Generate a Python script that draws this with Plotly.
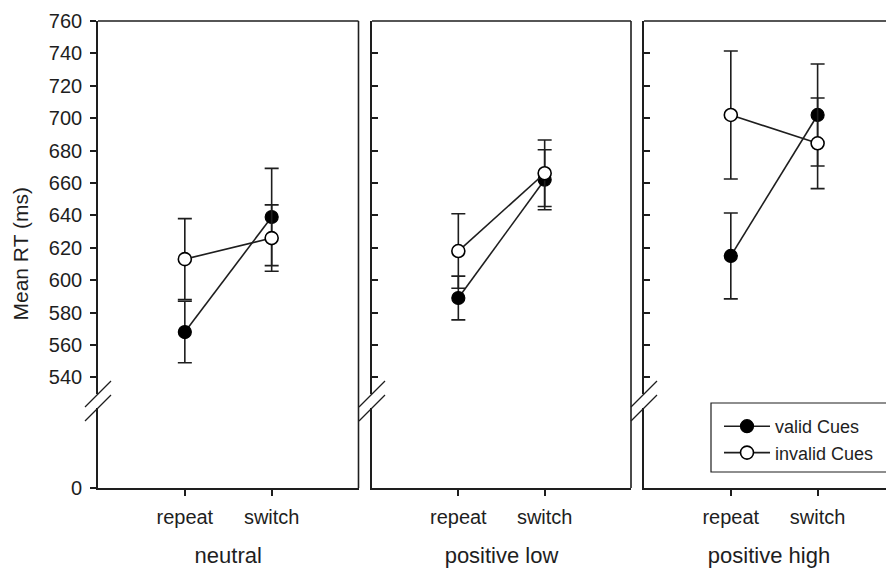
import plotly.graph_objects as go

# ---------------- data ----------------
categories = ["repeat", "switch"]
conditions = ["neutral", "positive low", "positive high"]

valid_means = [[568, 639], [589, 662], [615, 702]]
valid_err = [[19, 30], [13.5, 18.5], [26.5, 31.5]]
invalid_means = [[613, 626], [618, 666], [702, 684.5]]
invalid_err = [[25, 20.5], [23, 20.5], [39.5, 28]]

upper_ticks = list(range(540, 761, 20))
lower_ticks = [0]
series_names = ["valid Cues", "invalid Cues"]

# ---------------- layout geometry (screen pixels) ----------------
W, H = 894, 568
OFF = 8                      # default body margin of the html page
L, R, T, B = 98, 0, 21, 80
PW, PH = W - L - R, H - T - B


def px_x(p):
    return (p - L) / PW


def px_y(p):
    return (H - B - p) / PH


panel_px = [(98, 358.5), (372, 631), (644, 894)]
x_ranges = [[-1, 2], [-1, 2], [-1, 1.88]]
domains = [[px_x(a), min(1, px_x(b))] for a, b in panel_px]

BREAK_TOP, BREAK_BOT = 394, 408
upper_dom = [px_y(BREAK_TOP), 1]
lower_dom = [0, px_y(BREAK_BOT)]
upper_range = [760 - (BREAK_TOP - 21) * 20 / 32.4, 760]

FONT = "Liberation Sans, Arial, Helvetica, sans-serif"
INK = "#1e1e1e"
LW = 1.6

fig = go.Figure()

for i in range(3):
    xa = "x" if i == 0 else f"x{i+1}"
    ya = "y" if i == 0 else f"y{i+1}"
    fig.add_trace(go.Scatter(
        x=categories, y=valid_means[i], xaxis=xa, yaxis=ya,
        mode="lines+markers", name=series_names[0],
        showlegend=(i == 0),
        line=dict(color=INK, width=LW),
        marker=dict(symbol="circle", size=13, color="black",
                    line=dict(color="black", width=1.2)),
        error_y=dict(type="data", array=valid_err[i], color=INK,
                     thickness=LW, width=7),
    ))
    fig.add_trace(go.Scatter(
        x=categories, y=invalid_means[i], xaxis=xa, yaxis=ya,
        mode="lines+markers", name=series_names[1],
        showlegend=(i == 0),
        line=dict(color=INK, width=LW),
        marker=dict(symbol="circle", size=13, color="white",
                    line=dict(color="black", width=1.6)),
        error_y=dict(type="data", array=invalid_err[i], color=INK,
                     thickness=LW, width=7),
    ))
    # empty trace so the lower (broken) y-axis segment is created
    fig.add_trace(go.Scatter(
        x=[], y=[], xaxis=xa, yaxis=f"y{i+4}", showlegend=False,
        hoverinfo="skip", mode="markers",
    ))

layout = dict(
    width=W - OFF, height=H - OFF,
    margin=dict(l=L - OFF, r=R, t=T - OFF, b=B, pad=0),
    paper_bgcolor="white", plot_bgcolor="white",
    font=dict(family=FONT, size=20, color=INK),
    showlegend=True,
    legend=dict(
        x=px_x(719), y=px_y(408), xanchor="left", yanchor="top",
        borderwidth=0, bgcolor="rgba(0,0,0,0)",
        font=dict(size=18, family=FONT, color=INK),
        tracegroupgap=0, itemwidth=46,
    ),
)

shapes = []
for i in range(3):
    n = "" if i == 0 else str(i + 1)
    first = i == 0
    layout[f"xaxis{n}"] = dict(
        domain=domains[i], range=x_ranges[i], type="category",
        anchor=f"y{i+4}", showgrid=False, zeroline=False,
        showline=True, linecolor=INK, linewidth=LW,
        ticks="outside", ticklen=6, tickwidth=LW, tickcolor=INK,
        tickfont=dict(size=20), ticklabelstandoff=4,
        title=dict(text=conditions[i], font=dict(size=22), standoff=21),
        fixedrange=True,
    )
    layout[f"yaxis{n}"] = dict(
        domain=upper_dom, range=upper_range, anchor=f"x{n}",
        tickvals=upper_ticks, showticklabels=first,
        showgrid=False, zeroline=False,
        showline=True, linecolor=INK, linewidth=LW,
        ticks="outside" if first else "inside", ticklen=6, tickwidth=LW,
        tickcolor=INK, tickfont=dict(size=20), ticklabelstandoff=4,
        fixedrange=True,
    )
    layout[f"yaxis{i+4}"] = dict(
        domain=lower_dom, range=[0, 100], anchor=f"x{n}",
        tickvals=lower_ticks if first else [], showticklabels=first,
        showgrid=False, zeroline=False,
        showline=True, linecolor=INK, linewidth=LW,
        ticks="outside" if first else "", ticklen=6, tickwidth=LW,
        tickcolor=INK, tickfont=dict(size=20), ticklabelstandoff=4,
        fixedrange=True,
    )
    d0, d1 = domains[i]
    # top border
    shapes.append(dict(type="line", xref="paper", yref="paper",
                       x0=d0, x1=d1, y0=1, y1=1,
                       line=dict(color=INK, width=LW)))
    # right border (third panel is cut by the image edge)
    if i < 2:
        shapes.append(dict(type="line", xref="paper", yref="paper",
                           x0=d1, x1=d1, y0=0, y1=1,
                           line=dict(color=INK, width=LW)))
    # axis break slashes
    for yc in (upper_dom[0], lower_dom[1]):
        shapes.append(dict(type="line", xref="paper", yref="paper",
                           xsizemode="pixel", ysizemode="pixel",
                           xanchor=d0, yanchor=yc,
                           x0=-13, x1=13, y0=-13, y1=13,
                           line=dict(color=INK, width=1.3)))

# legend frame
shapes.append(dict(type="rect", xref="paper", yref="paper",
                   x0=px_x(711), x1=px_x(889), y0=px_y(472), y1=px_y(403),
                   line=dict(color=INK, width=1.2), fillcolor="white",
                   layer="above"))

layout["shapes"] = shapes
layout["annotations"] = [dict(
    text="Mean RT (ms)", xref="paper", yref="paper",
    x=px_x(20), y=px_y(254.5), xanchor="center", yanchor="middle",
    textangle=-90, showarrow=False, font=dict(size=21, family=FONT, color=INK),
)]

fig.update_layout(**layout)
fig.write_html("out.html")
